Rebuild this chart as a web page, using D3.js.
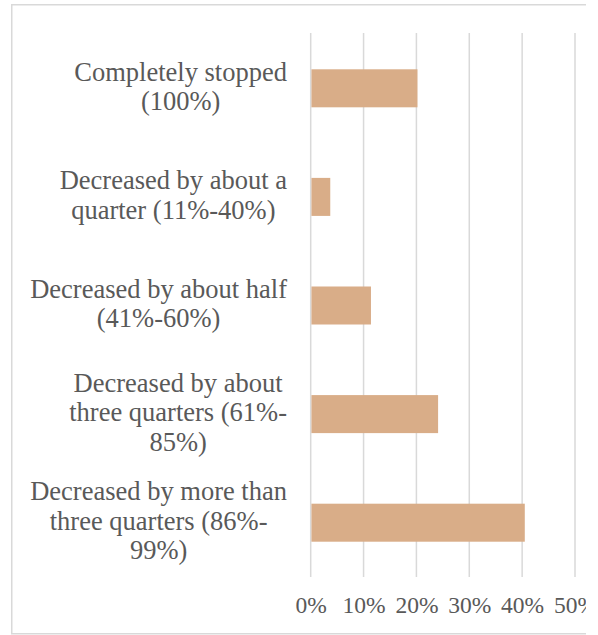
<!DOCTYPE html>
<html>
<head>
<meta charset="utf-8">
<script src="https://cdn.jsdelivr.net/npm/d3@7/dist/d3.min.js"></script>
<style>
  html, body { margin: 0; padding: 0; background: #fff; }
  svg { display: block; }
</style>
</head>
<body>
<svg id="chart" width="598" height="635"></svg>
<script>
// Share of respondents by how much their activity changed
const categories = [
  "Completely stopped (100%)",
  "Decreased by about a quarter (11%-40%)",
  "Decreased by about half (41%-60%)",
  "Decreased by about three quarters (61%-85%)",
  "Decreased by more than three quarters (86%-99%)"
];
// Wrapped label lines for each category
const labelLines = [
  ["Completely stopped", "(100%)"],
  ["Decreased by about a", "quarter (11%-40%)"],
  ["Decreased by about half", "(41%-60%)"],
  ["Decreased by about", "three quarters (61%-", "85%)"],
  ["Decreased by more than", "three quarters (86%-", "99%)"]
];
const values = [0.202, 0.037, 0.114, 0.241, 0.405];
const xTicks = [0, 0.1, 0.2, 0.3, 0.4, 0.5];

const svg = d3.select("#chart");
const fontFamily = "'Liberation Serif', 'Times New Roman', serif";
const textColor = "#595959";
const gridColor = "#D9D9D9";
const barColor = "#D9AD88";

// Everything right of the frame edge is cut off
svg.append("defs").append("clipPath").attr("id", "frameClip")
  .append("rect").attr("x", 0).attr("y", 0).attr("width", 586).attr("height", 635);
const root = svg.append("g").attr("clip-path", "url(#frameClip)");

// Frame (left, top, bottom edges)
const frame = root.append("g").attr("stroke", gridColor).attr("stroke-width", 1.5).attr("fill", "none");
frame.append("path").attr("d", "M586,4.75 H11.75 V633.75 H586");

const x = d3.scaleLinear().domain([0, 0.5]).range([310.7, 575]);
const y = d3.scaleBand().domain(categories).range([34, 577]).paddingInner(0.65).paddingOuter(0.325);

// Vertical gridlines
root.append("g").selectAll("line").data(xTicks).join("line")
  .attr("x1", d => x(d)).attr("x2", d => x(d))
  .attr("y1", 33).attr("y2", 577)
  .attr("stroke", gridColor).attr("stroke-width", 1.5);

// Bars
root.append("g").selectAll("rect").data(values).join("rect")
  .attr("x", x(0) + 0.75)
  .attr("y", (d, i) => y(categories[i]))
  .attr("width", d => x(d) - x(0) - 0.75)
  .attr("height", y.bandwidth())
  .attr("fill", barColor);

// X axis tick labels
const xAxis = d3.axisBottom(x).tickValues(xTicks).tickFormat(d3.format(".0%")).tickSize(0).tickPadding(0);
const xg = root.append("g").attr("transform", "translate(0,612.5)").call(xAxis);
xg.select(".domain").remove();
xg.selectAll("text")
  .attr("y", 0).attr("dy", 0)
  .attr("font-family", fontFamily).attr("font-size", 23.5)
  .attr("fill", textColor);

// Category labels: block right-aligned to the axis, lines centred within the block
const labelRight = 287;
const lineHeight = 29.5;
const labelG = root.append("g")
  .attr("font-family", fontFamily).attr("font-size", 26.5).attr("fill", textColor);
categories.forEach((c, i) => {
  const lines = labelLines[i];
  const cy = y(c) + y.bandwidth() / 2;
  const t = labelG.append("text").attr("text-anchor", "middle");
  const spans = lines.map((ln, j) => t.append("tspan")
    .attr("y", cy + (j - (lines.length - 1) / 2) * lineHeight + 7)
    .text(ln));
  const maxW = d3.max(spans, s => s.node().getComputedTextLength());
  spans.forEach(s => s.attr("x", labelRight - maxW / 2));
});
</script>
</body>
</html>
